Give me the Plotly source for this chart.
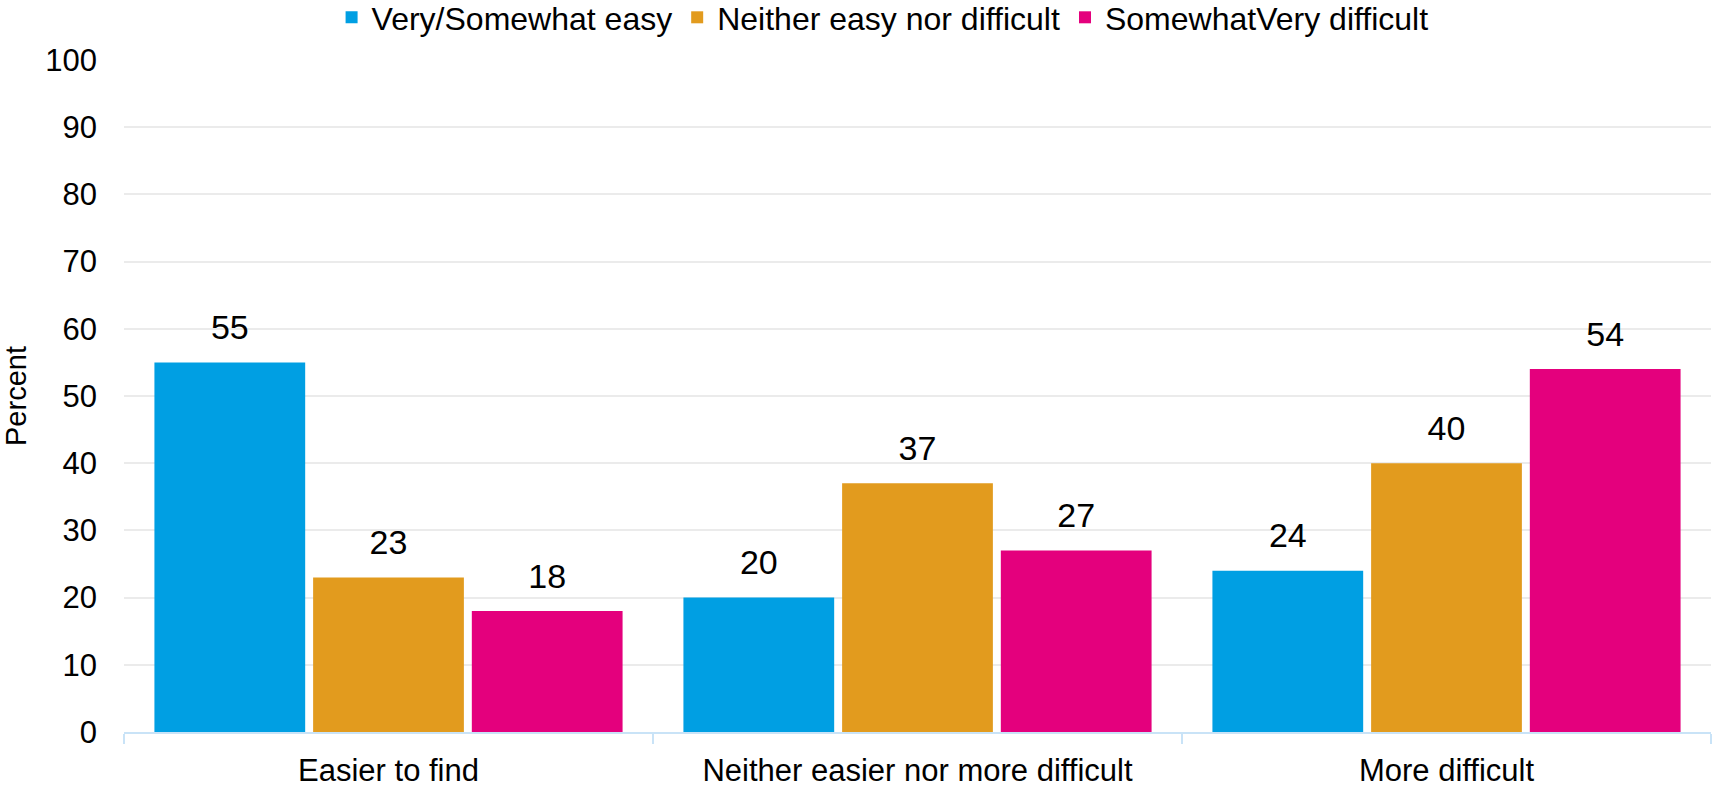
import plotly.graph_objects as go

categories = ["Easier to find", "Neither easier nor more difficult", "More difficult"]
series_names = ["Very/Somewhat easy", "Neither easy nor difficult", "SomewhatVery difficult"]
easy = [55, 20, 24]
neither = [23, 37, 40]
difficult = [18, 27, 54]
y_ticks = [0, 10, 20, 30, 40, 50, 60, 70, 80, 90, 100]

colors = ["#009FE3", "#E29B1E", "#E4007D"]
FONT = "Liberation Sans, Arial, sans-serif"
FS = 31
LABEL_FS = 34

fig = go.Figure()
for i, (name, vals, col) in enumerate(zip(series_names, [easy, neither, difficult], colors)):
    fig.add_trace(go.Bar(
        x=categories, y=vals, name=name, marker_color=col, marker_line_width=0,
        offsetgroup=str(i), hoverinfo="x+y+name",
    ))
for i, vals in enumerate([easy, neither, difficult]):
    fig.add_trace(go.Scatter(
        x=categories, y=vals, mode="markers+text", text=[str(v) for v in vals],
        textposition="top center", offsetgroup=str(i), showlegend=False,
        marker=dict(size=22, color="rgba(0,0,0,0)"), cliponaxis=False,
        textfont=dict(size=LABEL_FS, color="#000000", family=FONT), hoverinfo="skip",
    ))

fig.update_layout(
    width=1714, height=788,
    margin=dict(l=124, r=3, t=60, b=56, autoexpand=False),
    paper_bgcolor="white", plot_bgcolor="white",
    barmode="group", bargap=0.1, bargroupgap=0.05,
    scattermode="group", scattergap=0.1,
    font=dict(family=FONT, size=FS, color="#000000"),
    legend=dict(orientation="h", x=0.478, xanchor="center", y=1 - 17.5 / 788, yanchor="middle",
                yref="container", font=dict(size=32), traceorder="normal", itemwidth=30),
    showlegend=True,
)
fig.update_xaxes(
    showline=True, linecolor="#C9E3F7", linewidth=2,
    ticks="outside", tickson="boundaries", ticklen=10, tickcolor="#C9E3F7", tickwidth=2,
    tickfont=dict(size=FS), showgrid=False, ticklabelstandoff=10,
)
fig.update_yaxes(
    range=[0, 100], tickvals=y_ticks, showgrid=True, gridcolor="#EBEBEB", gridwidth=2,
    zeroline=False, tickfont=dict(size=FS), ticks="", ticklabelstandoff=26,
    title=dict(text="Percent", font=dict(size=29), standoff=14),
)

fig.write_html("out.html", config={"displayModeBar": False},
               post_script="document.body.style.margin='0';document.body.style.overflow='hidden';")
